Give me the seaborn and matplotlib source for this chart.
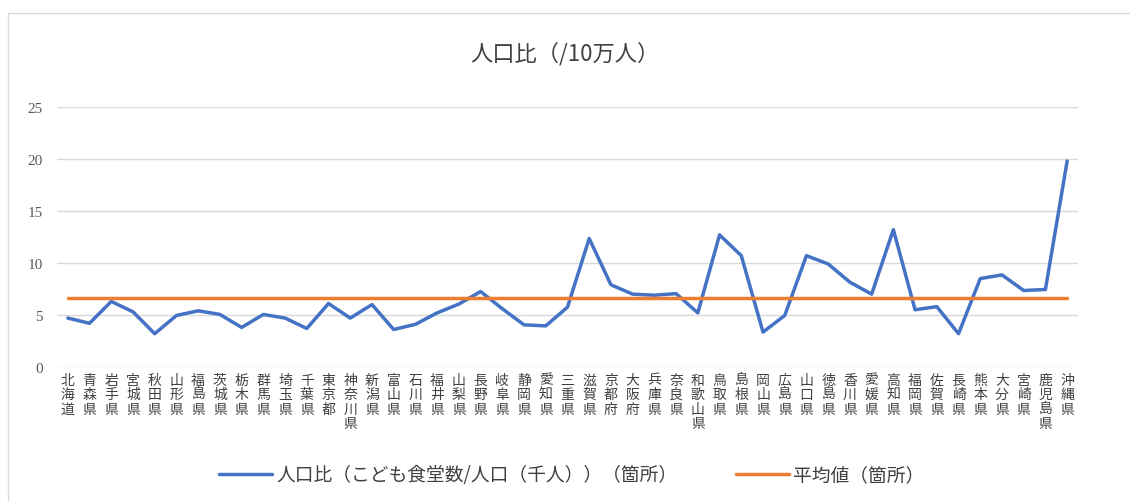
import pandas as pd
import seaborn as sns
import matplotlib.pyplot as plt
from matplotlib.patches import Rectangle

# prefectures and values
prefectures = ["北海道", "青森県", "岩手県", "宮城県", "秋田県", "山形県", "福島県", "茨城県",
               "栃木県", "群馬県", "埼玉県", "千葉県", "東京都", "神奈川県", "新潟県", "富山県",
               "石川県", "福井県", "山梨県", "長野県", "岐阜県", "静岡県", "愛知県", "三重県",
               "滋賀県", "京都府", "大阪府", "兵庫県", "奈良県", "和歌山県", "鳥取県", "島根県",
               "岡山県", "広島県", "山口県", "徳島県", "香川県", "愛媛県", "高知県", "福岡県",
               "佐賀県", "長崎県", "熊本県", "大分県", "宮崎県", "鹿児島県", "沖縄県"]
ratio = [4.7, 4.2, 6.3, 5.3, 3.2, 4.95, 5.4, 5.05, 3.8, 5.05, 4.7, 3.7,
         6.1, 4.7, 6.0, 3.6, 4.1, 5.2, 6.05, 7.25, 5.6, 4.05, 3.95, 5.75,
         12.35, 7.9, 7.0, 6.9, 7.05, 5.2, 12.7, 10.7, 3.35, 4.95, 10.7, 9.9,
         8.15, 7.0, 13.2, 5.5, 5.8, 3.2, 8.5, 8.85, 7.35, 7.45, 19.8]
average = 6.6

series_name = "人口比（こども食堂数/人口（千人））（箇所）"
avg_name = "平均値（箇所）"

sns.set_style("white")
plt.rcParams["font.family"] = ["Noto Sans CJK JP", "DejaVu Sans"]

df = pd.DataFrame({"pos": range(len(prefectures)), "ratio": ratio})
df["avg"] = average

fig = plt.figure(figsize=(11.3, 5.02), dpi=100)
ax = fig.add_axes([0.0504, 0.267, 0.9036, 0.518])

sns.lineplot(data=df, x="pos", y="ratio", ax=ax, color="#4472C4", linewidth=2.5, label=series_name)
sns.lineplot(data=df, x="pos", y="avg", ax=ax, color="#ED7D31", linewidth=2.5, label=avg_name)

ax.set_xlim(-0.5, len(prefectures) - 0.5)
ax.set_ylim(0, 25)
ax.set_yticks(range(0, 26, 5))
ax.yaxis.grid(True, color="#D9D9D9", linewidth=1)
ax.set_axisbelow(True)
for s in ax.spines.values():
    s.set_visible(False)
ax.set_xlabel("")
ax.set_ylabel("")

ax.set_xticks(range(len(prefectures)))
ax.set_xticklabels(["\n".join(p) for p in prefectures], fontsize=10, color="#404040",
                   linespacing=1.05, va="top")
ax.tick_params(axis="x", length=0, pad=4)
ax.tick_params(axis="y", length=0, pad=10, labelsize=11, labelcolor="#595959")
for t in ax.get_yticklabels():
    t.set_family("Liberation Serif")

fig.text(0.5, 0.892, "人口比（/10万人）", ha="center", va="center", fontsize=16, color="#404040",
         family=["Noto Sans CJK JP", "DejaVu Sans"])

ax.legend(loc="center", bbox_to_anchor=(0.506, 0.052), bbox_transform=fig.transFigure,
          ncol=2, frameon=False, fontsize=13.5, handlelength=2.85, handletextpad=0.22,
          columnspacing=3.1, labelcolor="#404040")

fig.patches.append(Rectangle((0.007, -0.01), 0.995, 0.982, transform=fig.transFigure,
                             fill=False, edgecolor="#D9D9D9", linewidth=1))

fig.savefig("out.png", dpi=100)
